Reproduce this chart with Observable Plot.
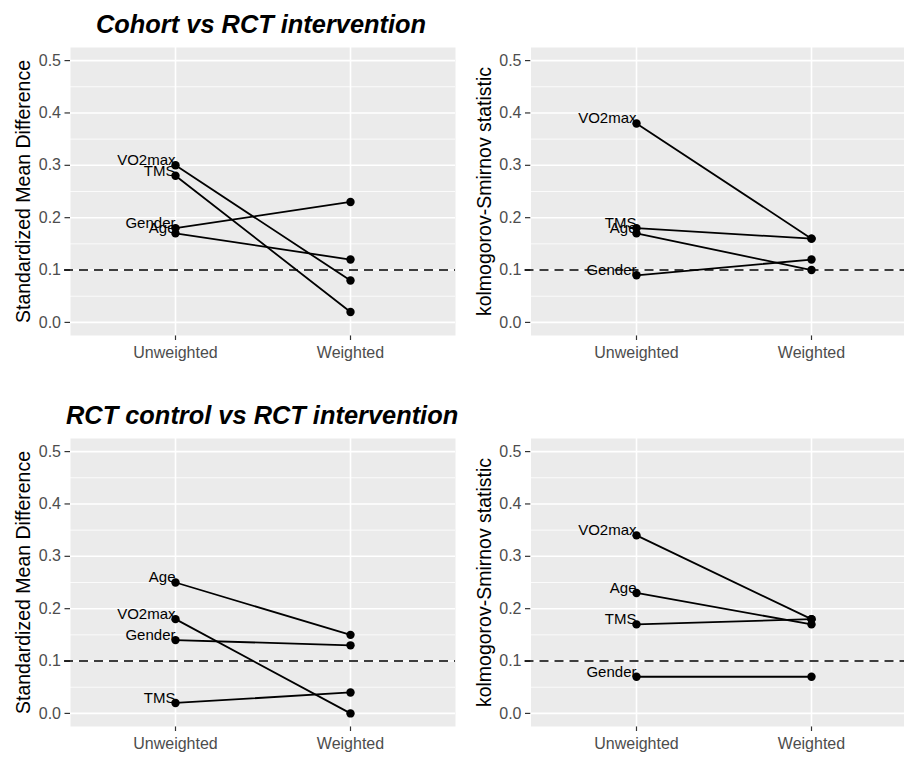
<!DOCTYPE html>
<html><head><meta charset="utf-8">
<script src="https://cdn.jsdelivr.net/npm/d3@7"></script>
<script src="https://cdn.jsdelivr.net/npm/@observablehq/plot@0.6"></script>
<style>
body{margin:0;background:#fff;}
#wrap{position:relative;width:904px;height:759px;overflow:hidden;background:#fff;font-family:"Liberation Sans",Arial,Helvetica,sans-serif;}
.panel{position:absolute;}
.panel svg{max-width:none !important;display:block;}
.panel svg [aria-label^="y-axis"] text, .panel svg [aria-label^="x-axis"] text{fill:#4d4d4d;font-size:16px;}
.panel svg [aria-label^="y-axis"] line, .panel svg [aria-label^="x-axis"] line,
.panel svg [aria-label^="y-axis"] path, .panel svg [aria-label^="x-axis"] path{stroke:#333;stroke-width:1.2px;}
.title{position:absolute;font-size:25.4px;font-weight:bold;font-style:italic;line-height:25px;white-space:nowrap;color:#000;}
</style></head><body><div id="wrap"></div>
<script>
// ---- data ----
const conditions = ["Unweighted", "Weighted"];
const variables = ["VO2max", "TMS", "Gender", "Age"];
// Cohort vs RCT intervention
const cohortSMDUnweighted = [0.30, 0.28, 0.18, 0.17];
const cohortSMDWeighted   = [0.08, 0.02, 0.23, 0.12];
const cohortKSUnweighted  = [0.38, 0.18, 0.09, 0.17];
const cohortKSWeighted    = [0.16, 0.16, 0.12, 0.10];
// RCT control vs RCT intervention
const rctSMDUnweighted = [0.18, 0.02, 0.14, 0.25];
const rctSMDWeighted   = [0.00, 0.04, 0.13, 0.15];
const rctKSUnweighted  = [0.34, 0.17, 0.07, 0.23];
const rctKSWeighted    = [0.18, 0.18, 0.07, 0.17];
const yTicks = [0, 0.1, 0.2, 0.3, 0.4, 0.5];
const threshold = 0.1;
const titles = ["Cohort vs RCT intervention", "RCT control vs RCT intervention"];
const yLabels = ["Standardized Mean Difference", "kolmogorov-Smirnov statistic"];

const FONT = '"Liberation Sans", Arial, Helvetica, sans-serif';
const minorTicks = yTicks.slice(0, -1).map(t => +(t + 0.05).toFixed(2));

function panel(unw, wtd, ylabel, width, marginLeft) {
  const rows = [];
  variables.forEach((v, i) => {
    rows.push({variable: v, condition: conditions[0], value: unw[i]});
    rows.push({variable: v, condition: conditions[1], value: wtd[i]});
  });
  const first = rows.filter(d => d.condition === conditions[0]);
  return Plot.plot({
    width, height: 365,
    marginLeft, marginRight: 0, marginTop: 47, marginBottom: 30,
    style: {fontFamily: FONT, fontSize: "16px", background: "transparent", overflow: "visible"},
    x: {type: "point", domain: conditions, padding: 0.6, label: null, tickSize: 5, tickPadding: 6},
    y: {domain: [-0.025, 0.525], ticks: yTicks, tickSize: 5.5, tickPadding: 4, tickFormat: d3.format(".1f"), label: null},
    marks: [
      Plot.frame({fill: "#EBEBEB", stroke: "none"}),
      Plot.ruleY(minorTicks, {stroke: "white", strokeWidth: 0.8}),
      Plot.ruleY(yTicks, {stroke: "white", strokeWidth: 1.6}),
      Plot.ruleX(conditions, {stroke: "white", strokeWidth: 1.6}),
      Plot.ruleY([threshold], {stroke: "black", strokeWidth: 1.5, strokeDasharray: "9,6", insetLeft: -6}),
      Plot.line(rows, {x: "condition", y: "value", z: "variable", stroke: "black", strokeWidth: 1.8}),
      Plot.dot(rows, {x: "condition", y: "value", r: 4.2, fill: "black", stroke: "none"}),
      Plot.text(first, {x: "condition", y: "value", text: "variable", textAnchor: "end", dy: -5, fontSize: 15, fill: "black"}),
      Plot.text([ylabel], {frameAnchor: "left", text: d => d, rotate: -90, textAnchor: "middle", lineAnchor: "middle", dx: -46.5, fontSize: 19.5, fill: "black"})
    ]
  });
}

const wrap = document.getElementById("wrap");
function place(node, left, top, w) {
  const div = document.createElement("div");
  div.className = "panel";
  div.style.left = left + "px";
  div.style.top = top + "px";
  div.style.width = w + "px";
  div.appendChild(node);
  wrap.appendChild(div);
}
place(panel(cohortSMDUnweighted, cohortSMDWeighted, yLabels[0], 455, 70), 0, 0, 455);
place(panel(cohortKSUnweighted, cohortKSWeighted, yLabels[1], 461, 75.5), 455, 0, 461);
place(panel(rctSMDUnweighted, rctSMDWeighted, yLabels[0], 455, 70), 0, 390.5, 455);
place(panel(rctKSUnweighted, rctKSWeighted, yLabels[1], 461, 75.5), 455, 390.5, 461);

function addTitle(text, left, top) {
  const t = document.createElement("div");
  t.className = "title";
  t.style.left = left + "px";
  t.style.top = top + "px";
  t.textContent = text;
  wrap.appendChild(t);
}
addTitle(titles[0], 96, 12);
addTitle(titles[1], 66, 403);
</script>
</body></html>
